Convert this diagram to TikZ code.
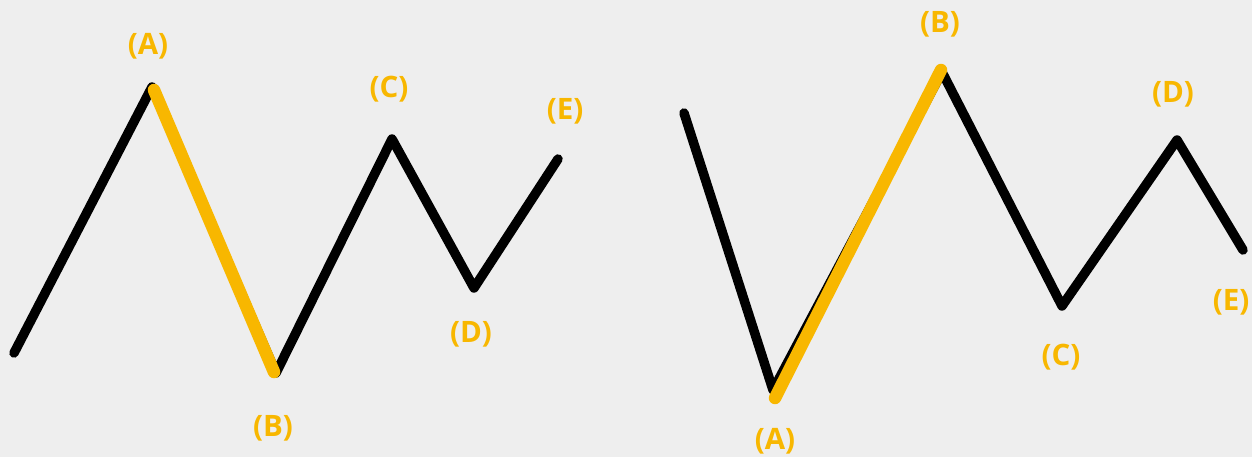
\documentclass[tikz,border=0pt]{standalone}
\usepackage{fontspec}
\setmainfont{Open Sans}
\definecolor{bg}{HTML}{EEEEEE}
\definecolor{gold}{HTML}{F8B700}
\begin{document}
\begin{tikzpicture}[x=1pt,y=-1pt,
  wave/.style={line width=9.5pt,line cap=round,line join=round,black},
  hl/.style={line width=12.5pt,line cap=round,gold},
  lbl/.style={text=gold,font=\fontsize{29.5}{32}\selectfont\bfseries,inner sep=0pt}]
\fill[bg] (0,0) rectangle (1252,457);
\useasboundingbox (0,0) rectangle (1252,457);
% left wave
\coordinate (l0) at (14,353);
\coordinate (lA) at (152,87);
\coordinate (lB) at (276,373);
\coordinate (lC) at (392,139);
\coordinate (lD) at (474,288);
\coordinate (lE) at (558,159);
\draw[wave] (l0) -- (lA) -- (lB) -- (lC) -- (lD) -- (lE);
\coordinate (lhA) at (154,90);
\coordinate (lhB) at (274,372);
\draw[hl] (lhA) -- (lhB);
\node[lbl] (tlA) at (148,46) {(A)};
\node[lbl] (tlB) at (273,428) {(B)};
\node[lbl] (tlC) at (389,89) {(C)};
\node[lbl] (tlD) at (471,334) {(D)};
\node[lbl] (tlE) at (565,111) {(E)};
% right wave
\coordinate (r0) at (684,113);
\coordinate (rA) at (773,390);
\coordinate (rB) at (942,72);
\coordinate (rC) at (1062,306);
\coordinate (rD) at (1177,140);
\coordinate (rE) at (1243,250);
\draw[wave] (r0) -- (rA) -- (rB) -- (rC) -- (rD) -- (rE);
\coordinate (rhA) at (775,398);
\coordinate (rhB) at (941,70);
\draw[hl] (rhA) -- (rhB);
\node[lbl] (trA) at (775,441) {(A)};
\node[lbl] (trB) at (940,24) {(B)};
\node[lbl] (trC) at (1061,357) {(C)};
\node[lbl] (trD) at (1173,94) {(D)};
\node[lbl] (trE) at (1231,302) {(E)};
\end{tikzpicture}
\end{document}
